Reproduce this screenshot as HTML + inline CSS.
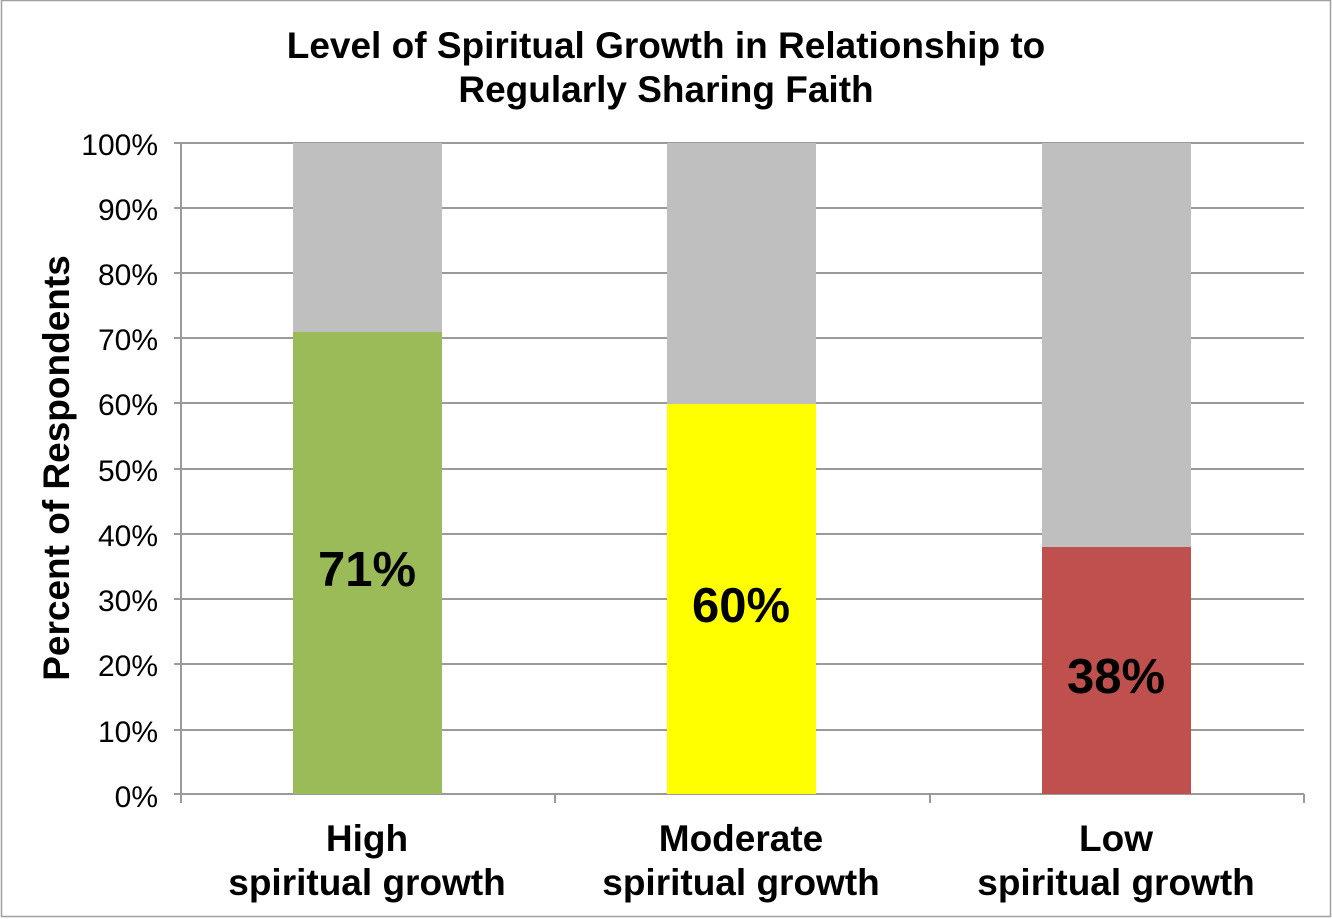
<!DOCTYPE html>
<html><head><style>
html,body{margin:0;padding:0;background:#fff;}
svg{display:block;}
text{font-family:"Liberation Sans",Arial,sans-serif;}
</style></head><body>
<svg width="1332" height="919" viewBox="0 0 1332 919" xmlns="http://www.w3.org/2000/svg">
<rect x="1.5" y="0.5" width="1329" height="916" fill="#fff" stroke="#a0a0a0" stroke-width="1.5"/>
<text x="666" y="58" font-size="37" font-weight="bold" text-anchor="middle">Level of Spiritual Growth in Relationship to</text>
<text x="666" y="102" font-size="37" font-weight="bold" text-anchor="middle">Regularly Sharing Faith</text>
<g stroke="#9a9a9a" stroke-width="2">
<line x1="174" y1="143" x2="1304" y2="143"/>
<line x1="174" y1="208" x2="1304" y2="208"/>
<line x1="174" y1="273" x2="1304" y2="273"/>
<line x1="174" y1="338" x2="1304" y2="338"/>
<line x1="174" y1="403" x2="1304" y2="403"/>
<line x1="174" y1="469" x2="1304" y2="469"/>
<line x1="174" y1="534" x2="1304" y2="534"/>
<line x1="174" y1="599" x2="1304" y2="599"/>
<line x1="174" y1="664" x2="1304" y2="664"/>
<line x1="174" y1="730" x2="1304" y2="730"/>
<line x1="174" y1="794" x2="1304" y2="794"/>
<line x1="181" y1="143" x2="181" y2="803"/>
<line x1="555" y1="794" x2="555" y2="803"/>
<line x1="930" y1="794" x2="930" y2="803"/>
<line x1="1304" y1="794" x2="1304" y2="803"/>
</g>
<rect x="293" y="143" width="149" height="189" fill="#bfbfbf"/>
<rect x="293" y="332" width="149" height="462" fill="#9bbb59"/>
<rect x="667" y="143" width="149" height="261" fill="#bfbfbf"/>
<rect x="667" y="404" width="149" height="390" fill="#ffff00"/>
<rect x="1042" y="143" width="149" height="404" fill="#bfbfbf"/>
<rect x="1042" y="547" width="149" height="247" fill="#c0504d"/>
<g font-size="30" text-anchor="end" fill="#000">
<text x="158" y="155">100%</text>
<text x="158" y="220">90%</text>
<text x="158" y="285">80%</text>
<text x="158" y="350">70%</text>
<text x="158" y="415">60%</text>
<text x="158" y="481">50%</text>
<text x="158" y="546">40%</text>
<text x="158" y="611">30%</text>
<text x="158" y="676">20%</text>
<text x="158" y="742">10%</text>
<text x="158" y="807">0%</text>
</g>
<text transform="translate(69,468) rotate(-90)" font-size="37" font-weight="bold" text-anchor="middle">Percent of Respondents</text>
<g font-size="49" font-weight="bold" text-anchor="middle">
<text x="367" y="586">71%</text>
<text x="741" y="622">60%</text>
<text x="1116" y="693">38%</text>
</g>
<g font-size="37" font-weight="bold" text-anchor="middle">
<text x="367" y="851">High</text>
<text x="367" y="895">spiritual growth</text>
<text x="741" y="851">Moderate</text>
<text x="741" y="895">spiritual growth</text>
<text x="1116" y="851">Low</text>
<text x="1116" y="895">spiritual growth</text>
</g>
</svg>
</body></html>
